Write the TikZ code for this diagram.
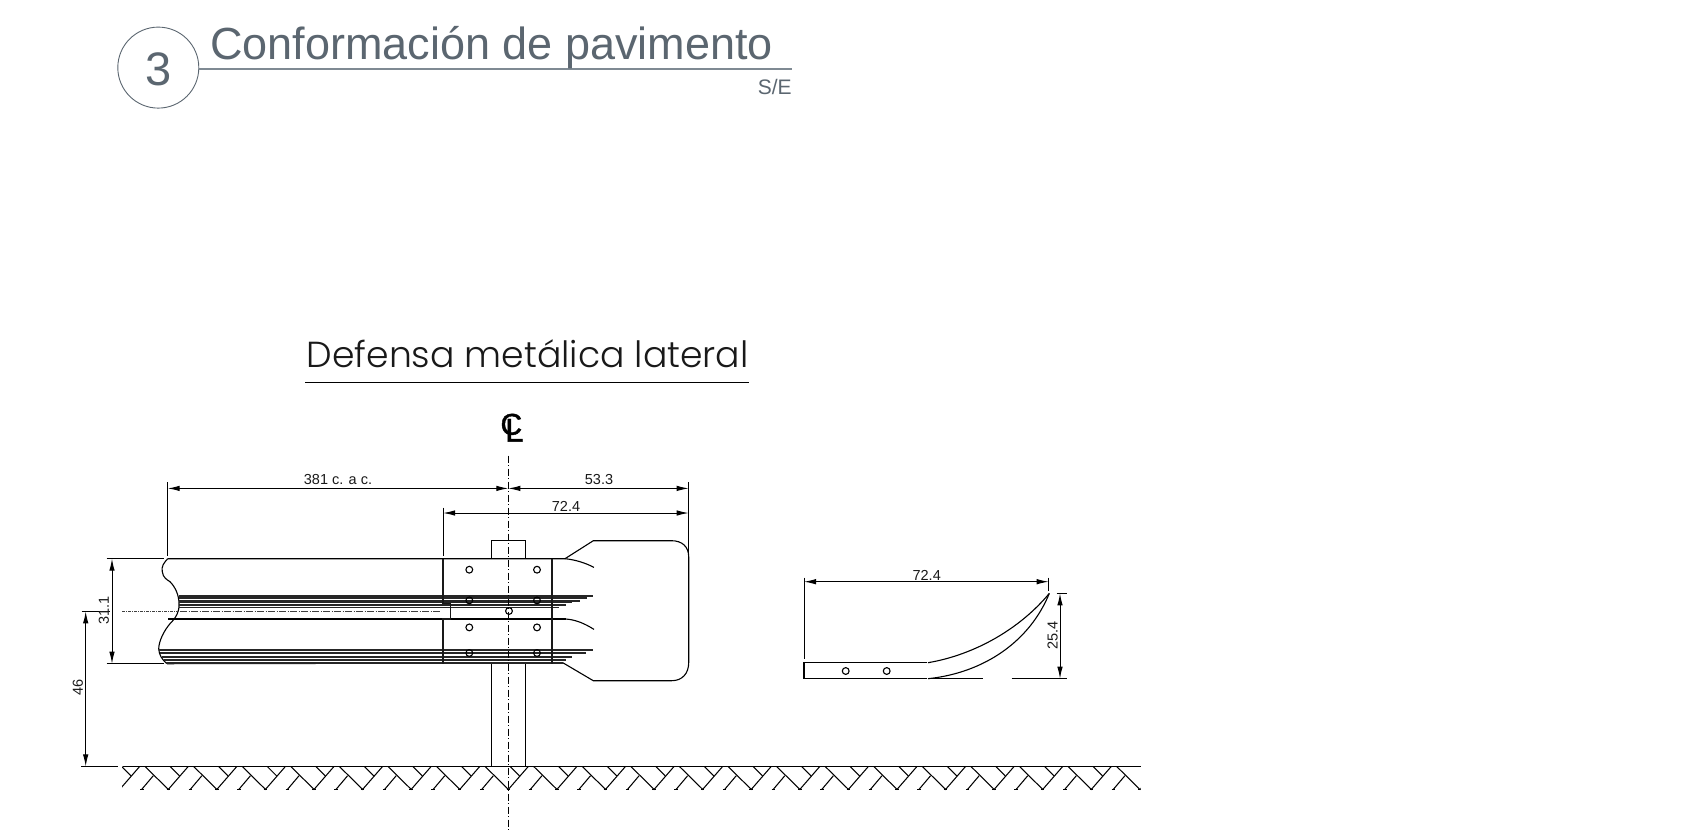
\documentclass[tikz,border=0pt]{standalone}
\usepackage{fontspec}
\usetikzlibrary{arrows.meta,calc}
\setmainfont{Liberation Sans}
\newfontfamily\popf[UprightFont=* Light]{Poppins}
\newfontfamily\clfont[FakeBold=1.3]{Liberation Sans}
\definecolor{titlecol}{HTML}{5B6670}
\definecolor{rulecol}{HTML}{7F8A93}
\tikzset{
  x=1pt,y=-1pt,
  draft/.style={line width=1.1pt,black},
  heavy line/.style={line width=1.3pt,black!90},
  dimline/.style={line width=1pt,black,{Latex[length=12pt,width=5.5pt]}-{Latex[length=12pt,width=5.5pt]}},
  extline/.style={line width=1pt,black},
  dimtext/.style={inner sep=0pt,font=\fontsize{14.5}{15}\selectfont,text=black!90},
  bolt/.style={circle,draw=black,fill=none,line width=1.1pt,minimum size=6.8pt,inner sep=0pt},
  stripe/.style={line width=1.6pt,black!85},
  hatchline/.style={line width=1.05pt,black},
  centerline/.style={line width=1pt,black,dash pattern=on 7pt off 2.5pt on 1pt off 2.5pt},
}
\begin{document}
\begin{tikzpicture}
\useasboundingbox (0,0) rectangle (1695,831);
% header
\node[circle,draw=titlecol,line width=0.9pt,minimum size=81pt,inner sep=0pt] (circ) at (158.3,67.6) {};
\node[text=titlecol,inner sep=0pt,font=\fontsize{47}{47}\selectfont] (num) at (158.3,69.5) {3};
\coordinate (ruleend) at (791.8,68.8);
\draw[rulecol,line width=1.4pt] (circ.east |- ruleend) -- (ruleend);
\node[text=titlecol,anchor=base west,inner sep=0pt,font=\fontsize{45}{45}\selectfont] (title) at (210,59.5) {Conformación de pavimento};
\node[text=titlecol,anchor=base east,inner sep=0pt,font=\fontsize{21}{21}\selectfont] (scale) at (791.8,94) {S/E};
\begin{scope}[shift={(0,0.7)}]
% subtitle
\node[anchor=base west,inner sep=0pt,font=\popf\fontsize{36.2}{36}\selectfont,text=black!90] (sub) at (306.5,366.7) {Defensa metálica lateral};
\coordinate (subL) at (305,381.7); \coordinate (subR) at (749.3,381.7);
\draw[line width=1.1pt,black] (subL) -- (subR);
% CL symbol
\node[inner sep=0pt] (cl) at (512,427) {\clfont\fontsize{30}{30}\selectfont C\kern-17pt\raisebox{-7pt}{\fontsize{33}{33}\selectfont L}};
% ground
\coordinate (gL) at (122.7,765.7); \coordinate (gR) at (1140.5,765.7);
\draw[draft] (gL) -- (gR);
\draw[extline] (81,765.7) -- (118,765.7);
\begin{scope}
\clip (122,760) rectangle (1140.5,800);
\foreach \k in {-1,0,...,21}{
  \begin{scope}[shift={(145+48.58*\k,765.7)}]
    \draw[hatchline] (0,0) -- (23.3,23) -- (43.3,0);
    \draw[hatchline] (25,0) -- (34.5,9.5);
    \draw[hatchline] (8.3,9.3) -- (-3.3,23);
    \draw[hatchline] (-5,23) -- (-1.5,23);
    \draw[hatchline] (21.5,23) -- (25,23);
  \end{scope}}
\end{scope}
% post
\coordinate (pTL) at (491.7,540); \coordinate (pTR) at (525.3,540);
\draw[draft] (491.7,558) -- (pTL) -- (pTR) -- (525.3,558);
\draw[draft] (491.7,663.3) -- (491.7,765.7);
\draw[draft] (525.3,663.3) -- (525.3,765.7);
% rail outline
\draw[draft] (167.7,558) -- (565,558) -- (593.3,540) -- (671.7,540)
  .. controls (682,540) and (688.7,546) .. (688.7,556) -- (688.7,662)
  .. controls (688.7,673) and (682,680) .. (671.7,680) -- (593.3,680) -- (563.3,662.3) -- (167,663);
\draw[draft] (168,618.3) -- (565.7,618.3);
\draw[draft] (565,558) .. controls (575,559) and (585,562) .. (594,566.7);
\draw[draft] (565.7,618.3) .. controls (576,619) and (585,623) .. (594,628.7);
% break line
\draw[draft] (167.7,558) .. controls (164,562) and (161,566) .. (162.3,571)
  .. controls (163,577) and (167,579) .. (170,581)
  .. controls (175,586) and (179,594) .. (179,603)
  .. controls (179.5,611) and (176,617) .. (170,623)
  .. controls (164,630) and (159,640) .. (158.7,648)
  .. controls (159,654) and (162,659) .. (167,663);
% stripes upper
\foreach \yy/\xx in {595/593,597.3/586.7,600/580,601.7/572,604/565.7,606.7/559}{
  \draw[stripe] (179,\yy) -- (\xx,\yy);}
% stripes lower
\draw[stripe] (159,649) -- (593,649);
\foreach \yy/\xx/\xl in {652.3/586/160,656/572/161.5,659/566/163.5,662/563/166}{
  \draw[stripe] (\xl,\yy) -- (\xx,\yy);}
% plate
\draw[heavy line] (443,558) -- (443,603) -- (450.7,603) -- (450.7,618.3) -- (443,618.3) -- (443,663);
\draw[heavy line] (552,558) -- (552,663);
\node[bolt] (b1) at (469.3,569) {};
\node[bolt] (b2) at (537,569) {};
\node[bolt] (b3) at (469.3,599.7) {};
\node[bolt] (b4) at (537,599.7) {};
\node[bolt] (b5) at (469.3,626.7) {};
\node[bolt] (b6) at (537,626.7) {};
\node[bolt] (b7) at (469.3,652.3) {};
\node[bolt] (b8) at (537,652.3) {};
\node[bolt] (b9) at (509,610.3) {};
% center lines
\draw[centerline] (508.3,455) -- (508.3,829);
\draw[line width=0.8pt,black] (81.7,610.7) -- (110,610.7);
\draw[line width=0.7pt,black!75,dash pattern=on 3pt off 1pt on 1pt off 1pt] (122,610.7) -- (180,610.7);
\draw[line width=0.7pt,black!75,dash pattern=on 7pt off 1.5pt on 1pt off 1.5pt] (180,610.7) -- (440,610.7);
% dimensions
\coordinate (d1L) at (167.7,487.7); \coordinate (dC) at (508.3,487.7); \coordinate (d1R) at (688.7,487.7);
\draw[dimline] (d1L) -- (dC);
\draw[dimline] (dC) -- (d1R);
\draw[extline] (167.7,481.7) -- (167.7,555);
\draw[extline] (688.7,481.7) -- (688.7,555);
\node[dimtext] (t381) at (338,479) {381 c. a c.};
\node[dimtext] (t533) at (599,479) {53.3};
\coordinate (d2L) at (443,512.3); \coordinate (d2R) at (688.7,512.3);
\draw[dimline] (d2L) -- (d2R);
\draw[extline] (443,507) -- (443,555);
\node[dimtext] (t724) at (566,505.5) {72.4};
\coordinate (d3T) at (112,558); \coordinate (d3B) at (112,663);
\draw[dimline] (d3T) -- (d3B);
\draw[extline] (106.7,558) -- (164,558);
\draw[extline] (106.7,663) -- (164,663);
\node[dimtext,rotate=90] (t311) at (104,610) {31.1};
\coordinate (d4T) at (85.7,610.7); \coordinate (d4B) at (85.7,765.7);
\draw[dimline] (d4T) -- (d4B);
\node[dimtext,rotate=90] (t46) at (78,687) {46};
% right detail
\draw[draft] (926.7,662) -- (804,662) -- (804,678) -- (926.7,678);
\node[bolt] (b10) at (845.7,670.3) {};
\node[bolt] (b11) at (886.7,670.3) {};
\draw[draft] (928,662) .. controls (975,654) and (1020,628) .. (1049.3,592.7);
\draw[draft] (928,678) .. controls (985,672) and (1030,640) .. (1049.3,592.7);
\draw[draft] (930,678) -- (983.3,678);
\draw[draft] (1011.7,678) -- (1066.7,678);
\draw[extline] (1056.7,592.7) -- (1066.7,592.7);
\coordinate (d5L) at (804,581); \coordinate (d5R) at (1048.7,581);
\draw[dimline] (d5L) -- (d5R);
\draw[extline] (804,577) -- (804,658.3);
\draw[extline] (1048.7,577) -- (1048.7,590);
\node[dimtext] (t724b) at (926.7,574.5) {72.4};
\coordinate (d6T) at (1060,592.7); \coordinate (d6B) at (1060,678);
\draw[dimline] (d6T) -- (d6B);
\node[dimtext,rotate=90] (t254) at (1052.7,635) {25.4};
\end{scope}
\end{tikzpicture}
\end{document}
